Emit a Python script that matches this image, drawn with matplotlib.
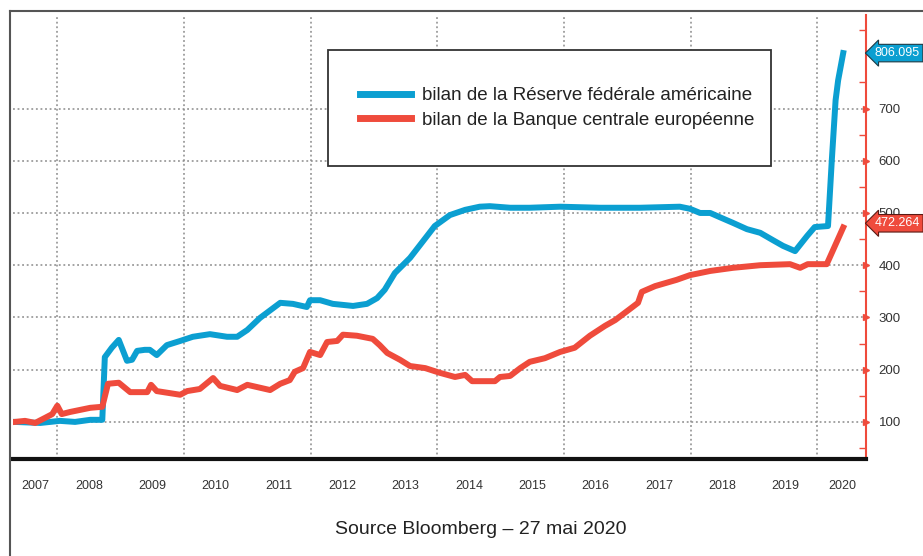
# Bilan Fed vs BCE (base 100), reproduction
import matplotlib.pyplot as plt
import matplotlib.transforms as mtransforms
from matplotlib.lines import Line2D
from matplotlib.patches import Rectangle

plt.rcParams['font.family'] = ['Liberation Sans', 'DejaVu Sans']

# Data (decimal years, index base 100)
fed_t = [2007.33, 2007.73, 2008.04, 2008.28, 2008.52, 2008.71, 2008.75, 2008.86, 2008.97,
         2009.10, 2009.18, 2009.26, 2009.38, 2009.46, 2009.57, 2009.73, 2009.94, 2010.14,
         2010.41, 2010.68, 2010.84, 2011.00, 2011.20, 2011.52, 2011.72, 2011.94, 2011.99,
         2012.15, 2012.35, 2012.67, 2012.89, 2013.05, 2013.17, 2013.33, 2013.57, 2013.73,
         2013.96, 2014.20, 2014.44, 2014.67, 2014.83, 2015.15, 2015.46, 2015.94, 2016.57,
         2017.20, 2017.83, 2017.99, 2018.15, 2018.31, 2018.46, 2018.67, 2018.89, 2019.10,
         2019.30, 2019.46, 2019.65, 2019.84, 2019.96, 2020.17, 2020.23, 2020.29, 2020.33,
         2020.41]
fed_v = [100, 98, 102, 100, 104, 104, 224, 242, 257,
         217, 219, 236, 238, 238, 228, 247, 255, 263,
         268, 263, 263, 276, 299, 328, 326, 320, 333,
         333, 326, 322, 326, 337, 353, 385, 414, 439,
         475, 496, 506, 512, 513, 510, 510, 512, 510,
         510, 512, 508, 500, 500, 492, 481, 469, 462,
         448, 437, 427, 456, 473, 475, 601, 716, 754,
         806.095]

bce_t = [2007.33, 2007.49, 2007.65, 2007.81, 2007.92, 2008.00, 2008.07, 2008.20, 2008.36,
         2008.52, 2008.71, 2008.80, 2008.97, 2009.15, 2009.42, 2009.48, 2009.57, 2009.94,
         2010.05, 2010.25, 2010.46, 2010.57, 2010.84, 2011.00, 2011.36, 2011.52, 2011.67,
         2011.75, 2011.88, 2011.99, 2012.15, 2012.26, 2012.42, 2012.51, 2012.73, 2012.98,
         2013.09, 2013.21, 2013.41, 2013.57, 2013.81, 2014.04, 2014.28, 2014.44, 2014.55,
         2014.91, 2014.99, 2015.15, 2015.31, 2015.46, 2015.70, 2015.94, 2016.17, 2016.41,
         2016.65, 2016.81, 2017.04, 2017.17, 2017.23, 2017.44, 2017.78, 2017.99, 2018.31,
         2018.67, 2019.10, 2019.57, 2019.73, 2019.85, 2020.15, 2020.25, 2020.41]
bce_v = [100, 102, 98, 108, 115, 131, 115, 119, 123,
         127, 129, 173, 175, 157, 157, 171, 159, 152,
         159, 163, 184, 169, 161, 171, 161, 173, 180,
         196, 203, 234, 228, 253, 255, 267, 265, 259,
         247, 232, 219, 207, 203, 194, 186, 190, 178,
         178, 186, 188, 203, 215, 222, 234, 242, 265,
         284, 295, 316, 328, 349, 360, 372, 381, 389,
         395, 400, 402, 395, 402, 402, 429, 472.264]

years = list(range(2007, 2021))
year_pos = [2007.65] + [y + 0.5 for y in years[1:-1]] + [2020.39]
yticks = [100, 200, 300, 400, 500, 600, 700]

blue = '#0b9fd1'
red = '#ef4b3c'

fig = plt.figure(figsize=(9.23, 5.56), dpi=100)
ax = fig.add_axes([13 / 923, 1 - 459 / 556, 853 / 923, 444 / 556])

ax.plot(fed_t, fed_v, color=blue, lw=4.3, solid_joinstyle='round', zorder=3)
ax.plot(bce_t, bce_v, color=red, lw=4.3, solid_joinstyle='round', zorder=4)

ax.set_xlim(2007.30, 2020.77)
ax.set_ylim(29, 879)

# grid
ax.set_xticks([2008, 2010, 2012, 2014, 2016, 2018, 2020])
ax.set_xticklabels([])
ax.tick_params(axis='x', length=0)
ax.set_yticks(yticks)
ax.grid(True, color='#8a8a8a', ls=(0, (1.2, 1.8)), lw=1.1)
ax.set_axisbelow(True)

# y axis on the right, red
ax.yaxis.tick_right()
ax.set_yticks(range(50, 900, 100), minor=True)
ax.tick_params(axis='y', which='major', length=0, pad=9, labelsize=9.5, labelcolor='#333333')
ax.tick_params(axis='y', which='minor', direction='in', length=5, width=1, color=red)
trans_r = mtransforms.blended_transform_factory(ax.transAxes, ax.transData)
ax.plot([1.0] * len(yticks), yticks, marker='>', ls='none', color=red, ms=5,
        transform=trans_r, clip_on=False)

for s in ['left', 'top']:
    ax.spines[s].set_visible(False)
ax.spines['right'].set_color(red)
ax.spines['right'].set_linewidth(1.5)
ax.spines['bottom'].set_color('#111111')
ax.spines['bottom'].set_linewidth(3)

# year labels
trans_x = ax.get_xaxis_transform()
for y, p in zip(years, year_pos):
    ax.text(p, -0.06, str(y), transform=trans_x, ha='center', va='center',
            fontsize=9, color='#333333')

# last values
ax.text(1.0105, fed_v[-1], f'{fed_v[-1]:.3f}', transform=trans_r, ha='left', va='center',
        fontsize=9, color='white', zorder=10,
        bbox=dict(boxstyle='larrow,pad=0.22', fc=blue, ec='#1c3a44', lw=0.8))
ax.text(1.0105, bce_v[-1] + 8, f'{bce_v[-1]:.3f}', transform=trans_r, ha='left', va='center',
        fontsize=9, color='white', zorder=10,
        bbox=dict(boxstyle='larrow,pad=0.22', fc=red, ec='#5a1a14', lw=0.8))

# legend box
fig.add_artist(Rectangle((328 / 923, 1 - 166 / 556), 443 / 923, 116 / 556,
                         transform=fig.transFigure, fc='white', ec='#333333', lw=1.3, zorder=5))
handles = [Line2D([], [], color=blue, lw=5), Line2D([], [], color=red, lw=5)]
fig.legend(handles, ['bilan de la Réserve fédérale américaine',
                     'bilan de la Banque centrale européenne'],
           loc='center left', bbox_to_anchor=(343 / 923, 1 - 108 / 556), frameon=False,
           fontsize=13.5, handlelength=2.7, handletextpad=0.6, labelspacing=0.4,
           labelcolor='#222222').set_zorder(6)

# page frame
fig.add_artist(Line2D([10 / 923, 10 / 923], [0, 1 - 11 / 556], color='#555555', lw=1.5))
fig.add_artist(Line2D([10 / 923, 1], [1 - 11 / 556, 1 - 11 / 556], color='#555555', lw=1.5))

fig.text(481 / 923, 1 - 530 / 556, 'Source Bloomberg – 27 mai 2020', ha='center', va='center',
         fontsize=14, color='#222222')

fig.savefig('out.png', dpi=100)
